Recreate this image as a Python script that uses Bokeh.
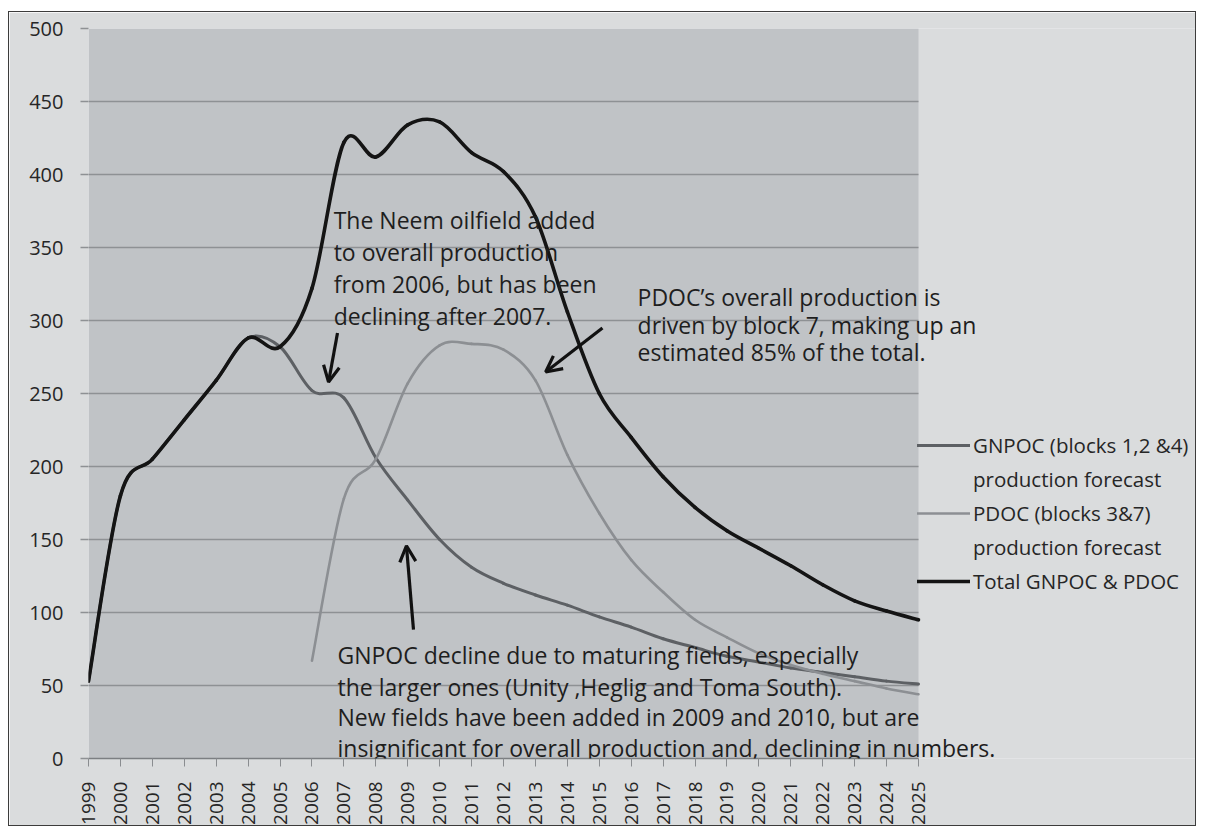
import numpy as np
from math import pi
from bokeh.plotting import figure
from bokeh.models import (Range1d, Label, Arrow, OpenHead, Legend, LegendItem,
                          FixedTicker, ColumnDataSource, BoxAnnotation)
from bokeh.embed import file_html
from bokeh.resources import INLINE

# ---------------- data ----------------
years = list(range(1999, 2026))
gnpoc = [53, 180, 205, 232, 259, 288, 282, 252, 247, 206, 177, 150, 131, 120,
         112, 105, 97, 90, 82, 76, 70, 66, 62, 59, 56, 53, 51]
pdoc_years = list(range(2006, 2026))
pdoc = [67, 178, 205, 257, 283, 284, 280, 259, 208, 168, 136, 114, 95, 83,
        72, 64, 58, 53, 48, 44]
total = [53, 180, 205, 232, 259, 288, 282, 322, 422, 412, 434, 436, 415, 402,
         371, 306, 250, 220, 193, 172, 156, 144, 132, 119, 108, 101, 95]
y_ticks = list(range(0, 501, 50))

series_names = ["GNPOC (blocks 1,2 &4)", "production forecast",
                "PDOC (blocks 3&7)", "production forecast",
                "Total GNPOC & PDOC"]

# ---------------- styles ----------------
FONT = "Open Sans"
TXT = "#262626"
C_GN = "#5d6064"
C_PD = "#8c8f93"
C_TOT = "#141414"
PLOT_BG = "#c0c3c6"
OUTER_BG = "#dadcdd"
GRID = "#8e9194"

X0, X1 = years[0], years[-1]
# frame extends to the right edge so the legend / notes can live inside it
X_VIEW_END = X1 + 8.74


def smooth(xs, ys):
    """Bezier segments (Excel-like smoothed line) through the data points."""
    x = np.asarray(xs, float)
    y = np.asarray(ys, float)
    n = len(x)
    xp = np.concatenate([[x[0]], x, [x[-1]]])
    yp = np.concatenate([[y[0]], y, [y[-1]]])
    return dict(
        x0=x[:-1], y0=y[:-1], x1=x[1:], y1=y[1:],
        cx0=x[:-1] + (xp[2:n + 1] - xp[0:n - 1]) / 6.0,
        cy0=y[:-1] + (yp[2:n + 1] - yp[0:n - 1]) / 6.0,
        cx1=x[1:] - (xp[3:n + 2] - xp[1:n]) / 6.0,
        cy1=y[1:] - (yp[3:n + 2] - yp[1:n]) / 6.0,
    )


p = figure(width=1188, height=815, output_backend="svg", toolbar_location=None,
           x_range=Range1d(X0, X_VIEW_END), y_range=Range1d(0, 500),
           min_border_left=79, min_border_right=0, min_border_top=16,
           min_border_bottom=68)
p.styles = {"border": "1px solid #3c3c3c", "margin-left": "8px",
            "margin-top": "11px"}
p.background_fill_color = OUTER_BG
p.border_fill_color = OUTER_BG
p.outline_line_color = None

# plot area
p.add_layout(BoxAnnotation(left=X0, right=X1, bottom=0, top=500,
                           fill_color=PLOT_BG, fill_alpha=1, line_color=None,
                           level="image"))

# axes
p.xaxis.ticker = FixedTicker(ticks=years)
p.yaxis.ticker = FixedTicker(ticks=y_ticks)
p.xaxis.bounds = (X0, X1)
p.xaxis.major_label_orientation = pi / 2
p.xaxis.major_label_text_font = FONT
p.yaxis.major_label_text_font = FONT
p.xaxis.major_label_text_font_size = "19px"
p.yaxis.major_label_text_font_size = "20px"
p.xaxis.major_label_text_color = TXT
p.yaxis.major_label_text_color = TXT
p.xaxis.axis_line_color = "#7c7f82"
p.xaxis.axis_line_width = 1.5
p.xaxis.major_tick_line_color = "#8a8d90"
p.xaxis.major_tick_in = 0
p.xaxis.major_tick_out = 8
p.xaxis.major_label_standoff = 15
p.xaxis.minor_tick_line_color = None
p.yaxis.axis_line_color = None
p.yaxis.major_tick_line_color = GRID
p.yaxis.major_tick_line_width = 1.5
p.yaxis.major_tick_in = 0
p.yaxis.major_tick_out = 8
p.yaxis.major_label_standoff = 17
p.yaxis.minor_tick_line_color = None
p.xgrid.grid_line_color = None
p.ygrid.grid_line_color = GRID
p.ygrid.grid_line_width = 1.5
p.ygrid.cross_bounds = (X0, X1)

# series (smoothed)
BZ = dict(x0="x0", y0="y0", x1="x1", y1="y1", cx0="cx0", cy0="cy0",
          cx1="cx1", cy1="cy1", line_cap="round", line_join="round")
r_gn = p.bezier(source=ColumnDataSource(smooth(years, gnpoc)),
                line_color=C_GN, line_width=3, **BZ)
r_pd = p.bezier(source=ColumnDataSource(smooth(pdoc_years, pdoc)),
                line_color=C_PD, line_width=2.6, **BZ)
r_tot = p.bezier(source=ColumnDataSource(smooth(years, total)),
                 line_color=C_TOT, line_width=3.6, **BZ)

# legend
r_none = p.line(x=[], y=[], line_alpha=0)
legend = Legend(items=[
    LegendItem(label=series_names[0], renderers=[r_gn]),
    LegendItem(label=series_names[1], renderers=[r_none]),
    LegendItem(label=series_names[2], renderers=[r_pd]),
    LegendItem(label=series_names[3], renderers=[r_none]),
    LegendItem(label=series_names[4], renderers=[r_tot]),
], location=(829, 160), orientation="vertical", margin=0, padding=0, spacing=0,
    glyph_width=53, glyph_height=34, label_height=34, label_standoff=3,
    label_text_font=FONT, label_text_font_size="20.5px", label_text_color=TXT,
    background_fill_alpha=0, border_line_alpha=0)
p.add_layout(legend, "center")

# annotations
notes = [
    (2006.68, [368.7, 346.8, 324.9, 303.0],
     ["The Neem oilfield added", "to overall production",
      "from 2006, but has been", "declining after 2007."]),
    (2016.20, [316.0, 296.9, 278.4],
     ["PDOC\u2019s overall production is", "driven by block 7, making up an",
      "estimated 85% of the total."]),
    (2006.80, [71.0, 49.1, 28.2, 7.0],
     ["GNPOC decline due to maturing fields, especially",
      "the larger ones (Unity ,Heglig and Toma South).",
      "New fields have been added in 2009 and 2010, but are",
      "insignificant for overall production and, declining in numbers."]),
]
for nx, nys, lines in notes:
    for ny, t in zip(nys, lines):
        p.add_layout(Label(x=nx, y=ny, text=t, text_font=FONT,
                           text_font_size="23px", text_color="#1e1e1e",
                           text_baseline="alphabetic", text_align="left"))

arrows = [((2006.80, 291.4), (2006.52, 257.9)),
          ((2015.10, 294.8), (2013.32, 264.7)),
          ((2009.18, 88.2), (2008.96, 145.7))]
for (xs, ys), (xe, ye) in arrows:
    p.add_layout(Arrow(x_start=xs, y_start=ys, x_end=xe, y_end=ye,
                       line_color="#111111", line_width=3.2,
                       end=OpenHead(size=16, line_color="#111111", line_width=3.2)))

open("out.html", "w").write(file_html(p, INLINE))
